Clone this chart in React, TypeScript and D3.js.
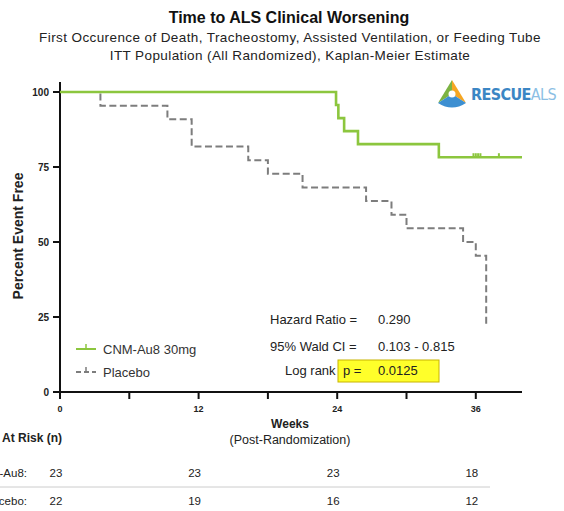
import React from "react";
import * as d3 from "d3";

const W = 564, H = 511;

// Kaplan-Meier step data (weeks, percent event free)
const cnmWeeks = [0, 23.9, 24.1, 24.6, 25.8, 32.8, 40];
const cnmPct = [100, 95.65, 91.3, 86.96, 82.61, 78.26, 78.26];
const cnmCensorWeeks = [35.8, 36.0, 36.2, 36.4, 38.0];

const pboWeeks = [0, 3.5, 9.3, 11.4, 16.3, 18.0, 21.0, 26.5, 28.7, 30.0, 34.9, 36.0, 36.9];
const pboPct = [100, 95.45, 90.91, 81.82, 77.27, 72.73, 68.18, 63.64, 59.09, 54.55, 50.0, 45.45, 22.73];

const yTicks = [0, 25, 50, 75, 100];
const xTicks = [0, 6, 12, 18, 24, 30, 36];
const xLabels = [0, 12, 24, 36];

const riskWeeks = [0, 12, 24, 36];
const riskCnm = [23, 23, 23, 18];
const riskPbo = [22, 19, 16, 12];

const statLabels = ["Hazard Ratio =", "95% Wald CI ="];
const statValues = ["0.290", "0.103 - 0.815"];
const pValue = "0.0125";

const GREEN = "#8cc63e";
const GRAY = "#7d7d7d";
const FONT = "'Liberation Sans', Arial, Helvetica, sans-serif";

export default function App() {
  const x = d3.scaleLinear().domain([0, 40]).range([60, 522]);
  const y = d3.scaleLinear().domain([0, 100]).range([392, 92]);

  const stepLine = d3
    .line<[number, number]>()
    .x((d) => x(d[0]))
    .y((d) => y(d[1]))
    .curve(d3.curveStepAfter);

  const cnmData: [number, number][] = cnmWeeks.map((w, i) => [w, cnmPct[i]]);
  const pboData: [number, number][] = pboWeeks.map((w, i) => [w, pboPct[i]]);

  const censorY = y(cnmPct[cnmPct.length - 1]);

  return (
    <svg
      width={W}
      height={H}
      style={{ position: "absolute", left: 0, top: 0, background: "#fff" }}
      fontFamily={FONT}
    >
      <rect width={W} height={H} fill="#fff" />
      {/* Titles */}
      <text x={289} y={23} textAnchor="middle" fontSize={16} fontWeight="bold" fill="#111">
        Time to ALS Clinical Worsening
      </text>
      <text x={290} y={42} textAnchor="middle" fontSize={13.5} letterSpacing={0.4} fill="#222">
        First Occurence of Death, Tracheostomy, Assisted Ventilation, or Feeding Tube
      </text>
      <text x={290} y={60} textAnchor="middle" fontSize={13.5} letterSpacing={0.4} fill="#222">
        ITT Population (All Randomized), Kaplan-Meier Estimate
      </text>

      {/* Logo */}
      <g transform="translate(436,78)">
        <path d="M16,2 L2,25 L16,16 Z" fill="#7cb342" />
        <path d="M16,2 L30,25 L16,16 Z" fill="#f5a623" />
        <path d="M2,25 Q16,34 30,25 L16,16 Z" fill="#3d8fd1" />
        <circle cx={16} cy={16} r={3.5} fill="#fff" />
        <text x={35} y={22} fontSize={16} fontWeight="bold" fill="#3b86c4" fontFamily="'DejaVu Sans Condensed', 'Liberation Sans Narrow', sans-serif" letterSpacing={-0.6}>
          RESCUE
          <tspan fontWeight="normal" fill="#8cbfe4">ALS</tspan>
        </text>
      </g>

      {/* Y axis */}
      <line x1={60} x2={60} y1={82} y2={393} stroke="#111" strokeWidth={2} />
      {yTicks.map((t) => (
        <g key={t}>
          <line x1={53} x2={60} y1={y(t)} y2={y(t)} stroke="#111" strokeWidth={2} />
          <text x={49} y={y(t) + 3.5} textAnchor="end" fontSize={10} fontWeight="bold" fill="#222">
            {t}
          </text>
        </g>
      ))}
      <text
        transform={`translate(23,${y(52)}) rotate(-90)`}
        textAnchor="middle"
        fontSize={14}
        fontWeight="bold"
        fill="#222"
      >
        Percent Event Free
      </text>

      {/* X axis */}
      <line x1={59} x2={522} y1={392} y2={392} stroke="#111" strokeWidth={2} />
      {xTicks.map((t) => (
        <line key={t} x1={x(t)} x2={x(t)} y1={392} y2={399} stroke="#111" strokeWidth={2} />
      ))}
      {xLabels.map((t) => (
        <text key={t} x={x(t)} y={412} textAnchor="middle" fontSize={9} fontWeight="bold" fill="#222">
          {t}
        </text>
      ))}
      <text x={290} y={428} textAnchor="middle" fontSize={12} fontWeight="bold" fill="#222">
        Weeks
      </text>
      <text x={290} y={444} textAnchor="middle" fontSize={12.5} fill="#222">
        (Post-Randomization)
      </text>

      {/* Curves */}
      <path d={stepLine(pboData) || ""} fill="none" stroke={GRAY} strokeWidth={2} strokeDasharray="7,3.5" />
      <path d={stepLine(cnmData) || ""} fill="none" stroke={GREEN} strokeWidth={2.6} />
      {cnmCensorWeeks.map((w, i) => (
        <line key={i} x1={x(w)} x2={x(w)} y1={censorY - 4} y2={censorY} stroke={GREEN} strokeWidth={2} />
      ))}

      {/* Legend */}
      <g>
        <line x1={76} x2={96} y1={349} y2={349} stroke={GREEN} strokeWidth={2} />
        <line x1={86} x2={86} y1={344} y2={349} stroke={GREEN} strokeWidth={1.5} />
        <text x={103} y={353.5} fontSize={13} fill="#333">CNM-Au8 30mg</text>
        <line x1={76} x2={96} y1={372} y2={372} stroke={GRAY} strokeWidth={2} strokeDasharray="5,3" />
        <line x1={86} x2={86} y1={367} y2={372} stroke={GRAY} strokeWidth={1.5} />
        <text x={103} y={376.5} fontSize={13} fill="#333">Placebo</text>
      </g>

      {/* Stats */}
      {statLabels.map((s, i) => (
        <g key={s}>
          <text x={270} y={324 + i * 27} fontSize={13} fill="#222">{s}</text>
          <text x={378} y={324 + i * 27} fontSize={13} fill="#222">{statValues[i]}</text>
        </g>
      ))}
      <text x={285} y={375} fontSize={13} fill="#222">Log rank</text>
      <rect x={338} y={360} width={101} height={22} fill="#ffff2a" stroke="#c8b400" strokeWidth={1} />
      <text x={343} y={375} fontSize={13} fill="#222">p =</text>
      <text x={378} y={375} fontSize={13} fill="#222">{pValue}</text>

      {/* At risk table */}
      <text x={2} y={442} fontSize={12} fontWeight="bold" fill="#222">At Risk (n)</text>
      <text x={27} y={477} textAnchor="end" fontSize={11.5} fill="#222">CNM-Au8:</text>
      <text x={27} y={505} textAnchor="end" fontSize={11.5} fill="#222">Placebo:</text>
      <line x1={0} x2={490} y1={487} y2={487} stroke="#ccc" strokeWidth={1} />
      {riskWeeks.map((w, i) => (
        <g key={w}>
          <text x={x(w) - 4} y={477} textAnchor="middle" fontSize={11.5} fill="#222">{riskCnm[i]}</text>
          <text x={x(w) - 4} y={505} textAnchor="middle" fontSize={11.5} fill="#222">{riskPbo[i]}</text>
        </g>
      ))}
    </svg>
  );
}
